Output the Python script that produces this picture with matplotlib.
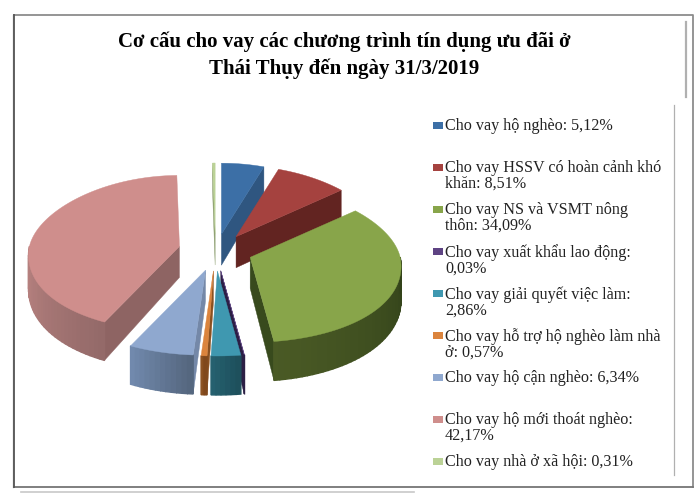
import matplotlib
matplotlib.use('Agg')
import matplotlib.pyplot as plt
import numpy as np
from matplotlib.colors import to_rgb
from matplotlib.patches import Polygon, Rectangle

plt.rcParams['font.family'] = ['Liberation Serif', 'DejaVu Serif']

title_lines = ['Cơ cấu cho vay các chương trình tín dụng ưu đãi ở', 'Thái Thụy đến ngày 31/3/2019']
values = [5.12, 8.51, 34.09, 0.03, 2.86, 0.57, 6.34, 42.17, 0.31]
labels = [
    'Cho vay hộ nghèo: 5,12%',
    'Cho vay HSSV có hoàn cảnh khó\nkhăn: 8,51%',
    'Cho vay NS và VSMT nông\nthôn: 34,09%',
    'Cho vay xuất khẩu lao động:\n0,03%',
    'Cho vay giải quyết việc làm:\n2,86%',
    'Cho vay hỗ trợ hộ nghèo làm nhà\nở: 0,57%',
    'Cho vay hộ cận nghèo: 6,34%',
    'Cho vay hộ mới thoát nghèo:\n42,17%',
    'Cho vay nhà ở xã hội: 0,31%',
]
top_colors = ['#3C6FA6', '#A5423F', '#88A54A', '#5E4383', '#3F98B0',
              '#DB843D', '#8FA8CF', '#CF8E8C', '#BBD296']
wall_colors = ['#2F5680', '#622421', '#384A1D', '#2C1F45', '#205460',
               '#8A5020', '#7488A8', '#8E6463', '#8A9C6C']
rim_left = ['#2F5680', '#622421', '#4A5A25', '#2C1F45', '#25606F',
            '#8A5020', '#7189AD', '#BC8583', '#8A9C6C']
rim_right = ['#2F5680', '#622421', '#33431A', '#2C1F45', '#1E505C',
             '#80481C', '#55677F', '#946A69', '#8A9C6C']

# pie geometry in image pixels
cx, cy = 215.5, 250
explode_x = 37


def rim_point(t):
    # t is clockwise from 12 o'clock; the front of the pie is drawn bigger
    a = 150 * (1 - 0.11 * np.cos(t))
    b = np.where(np.cos(t) > 0, 71, 85)
    return a * np.sin(t), -b * np.cos(t)


def depth(t):
    return 33 - 6 * np.cos(t)


fig = plt.figure(figsize=(6.94, 4.94), dpi=100)
ax = fig.add_axes([0, 0, 1, 1])
ax.set_xlim(0, 694)
ax.set_ylim(494, 0)
ax.axis('off')

# frame of the screenshot
ax.plot([13, 13], [15, 487], color='#b8b8b8', lw=1.0)
ax.plot([14.5, 693, 693], [15, 15, 487], color='#8c8c8c', lw=1.3)
ax.plot([14.5, 693], [487, 487], color='#757575', lw=1.3)
ax.plot([14.5, 14.5], [15, 487], color='#555555', lw=1.3)
ax.plot([686, 686], [22, 97], color='#b0b0b0', lw=1.6)
ax.plot([674, 674], [105, 475], color='#b0b0b0', lw=0.9)
ax.plot([21, 414], [492, 492], color='#c8c8c8', lw=1.2)

for i, line in enumerate(title_lines):
    ax.text(344, 42 + i * 27, line, ha='center', va='center', fontsize=15, fontweight='bold')

edges = np.cumsum([0] + values) / sum(values) * 2 * np.pi
order = sorted(range(len(values)), key=lambda k: -np.cos((edges[k] + edges[k + 1]) / 2))

for n, k in enumerate(order):
    t0, t1 = edges[k], edges[k + 1]
    mid = (t0 + t1) / 2
    ox = cx + explode_x * np.sin(mid)
    oy = cy - (16 if np.cos(mid) > 0 else 21) * np.cos(mid)
    ts = np.linspace(t0, t1, max(3, int(np.degrees(t1 - t0)) + 2))
    rx, ry = rim_point(ts)
    z = n + 2

    # radial walls, only the ones turned towards the viewer
    for t, visible in ((t0, np.sin(t0) < 0), (t1, np.sin(t1) > 0)):
        if visible:
            ex, ey = rim_point(t)
            d = depth(t)
            ax.add_patch(Polygon([(ox, oy), (ox + ex, oy + ey), (ox + ex, oy + ey + d), (ox, oy + 31)],
                                 fc=wall_colors[k], ec=wall_colors[k], lw=0.3, zorder=z))

    # outer wall, cut into thin strips for the shading
    a0 = max(t0, np.pi / 2)
    a1 = min(t1, 3 * np.pi / 2)
    if a1 > a0:
        strip = np.linspace(a1, a0, max(2, int(np.degrees(a1 - a0) / 2) + 2))
        left, right = np.array(to_rgb(rim_left[k])), np.array(to_rgb(rim_right[k]))
        sx, sy = rim_point(strip)
        for j in range(len(strip) - 1):
            f = j / max(1, len(strip) - 2)
            c = tuple(left * (1 - f) + right * f)
            pts = [(ox + sx[j], oy + sy[j]), (ox + sx[j + 1], oy + sy[j + 1]),
                   (ox + sx[j + 1], oy + sy[j + 1] + depth(strip[j + 1])),
                   (ox + sx[j], oy + sy[j] + depth(strip[j]))]
            ax.add_patch(Polygon(pts, fc=c, ec=c, lw=1.0, zorder=z))

    top = [(ox, oy)] + list(zip(ox + rx, oy + ry))
    ax.add_patch(Polygon(top, fc=top_colors[k], ec=top_colors[k], lw=0.3, zorder=z + 0.5))

for i, label in enumerate(labels):
    y = 125 + i * 42
    ax.add_patch(Rectangle((433, y - 3.5), 10, 7, fc=top_colors[i], ec='none'))
    ax.text(445, y - 7, label, ha='left', va='top', fontsize=11.6, color='#222222', linespacing=1.0)

fig.savefig('out.png', dpi=100)
